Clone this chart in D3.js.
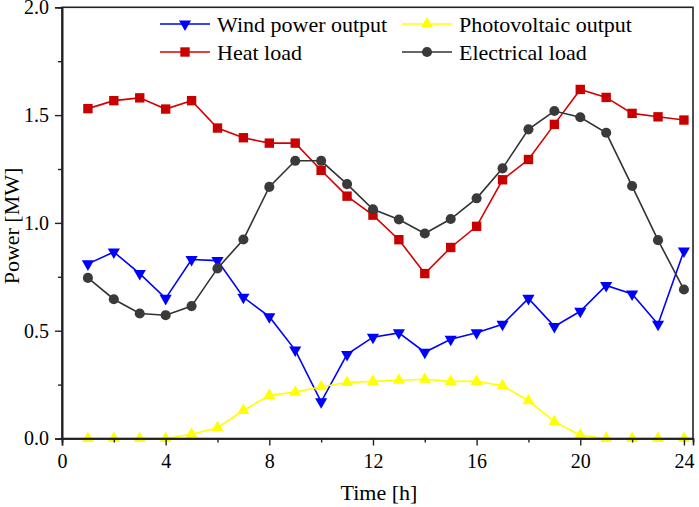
<!DOCTYPE html>
<html>
<head>
<meta charset="utf-8">
<script src="https://cdn.jsdelivr.net/npm/d3@7"></script>
<style>
  body { margin: 0; background: #fff; }
  svg text { font-family: "Liberation Serif", "Times New Roman", serif; fill: #000; }
</style>
</head>
<body>
<svg id="chart" width="699" height="507"></svg>
<script>
var hours = d3.range(1, 25);
var wind  = [0.81, 0.865, 0.765, 0.65, 0.83, 0.825, 0.655, 0.565, 0.41, 0.17, 0.39, 0.47,
             0.49, 0.40, 0.46, 0.49, 0.53, 0.65, 0.52, 0.59, 0.71, 0.67, 0.53, 0.87];
var pv    = [0, 0, 0, 0, 0.02, 0.05, 0.13, 0.20, 0.215, 0.24, 0.26, 0.265,
             0.27, 0.275, 0.265, 0.265, 0.245, 0.175, 0.078, 0.015, 0, 0, 0, 0];
var heat  = [1.53, 1.567, 1.58, 1.528, 1.567, 1.44, 1.395, 1.37, 1.37, 1.244, 1.124, 1.036,
             0.922, 0.765, 0.886, 0.984, 1.2, 1.294, 1.457, 1.619, 1.582, 1.508, 1.492, 1.477];
var elec  = [0.745, 0.646, 0.58, 0.572, 0.614, 0.789, 0.923, 1.167, 1.288, 1.288, 1.18, 1.063,
             1.016, 0.951, 1.018, 1.114, 1.253, 1.434, 1.519, 1.49, 1.418, 1.171, 0.92, 0.691];
var xTicks = [0, 4, 8, 12, 16, 20, 24];
var yTicks = [0, 0.5, 1.0, 1.5, 2.0];

var series = [
  { name: 'Wind power output',   values: wind, color: '#0000ff', fill: '#0000ff', shape: 'down' },
  { name: 'Photovoltaic output', values: pv,   color: '#ffff00', fill: '#ffff00', shape: 'up' },
  { name: 'Heat load',           values: heat, color: '#d40000', fill: '#c80000', shape: 'square' },
  { name: 'Electrical load',     values: elec, color: '#333333', fill: '#3a3a3a', shape: 'circle' }
];

var plotLeft = 62, plotTop = 7.3, plotRight = 693, plotBottom = 438.5;
var svg = d3.select('#chart');

var x = d3.scaleLinear().domain([0, 24.35]).range([plotLeft, plotRight]);
var y = d3.scaleLinear().domain([0, 2]).range([plotBottom, plotTop]);

function symbolPath(shape) {
  if (shape == 'square') return d3.symbol().type(d3.symbolSquare).size(88)();
  if (shape == 'circle') return d3.symbol().type(d3.symbolCircle).size(80)();
  return d3.symbol().type(d3.symbolTriangle).size(64)();
}
function symbolTransform(shape, px, py) {
  var t = 'translate(' + px + ',' + py + ')';
  if (shape == 'down') t += ' rotate(180)';
  return t;
}

// series lines and markers
series.forEach(function(s) {
  var line = d3.line().x(function(d, i) { return x(hours[i]); }).y(function(d) { return y(d); });
  svg.append('path').attr('d', line(s.values))
     .attr('fill', 'none').attr('stroke', s.color).attr('stroke-width', 1.6);
});
series.forEach(function(s) {
  svg.append('g').selectAll('path').data(s.values).enter().append('path')
     .attr('d', symbolPath(s.shape))
     .attr('transform', function(d, i) { return symbolTransform(s.shape, x(hours[i]), y(d)); })
     .attr('fill', s.fill);
});

// frame
svg.append('rect').attr('x', plotLeft).attr('y', plotTop)
   .attr('width', plotRight - plotLeft).attr('height', plotBottom - plotTop)
   .attr('fill', 'none').attr('stroke', '#222').attr('stroke-width', 1.6);

// axes
var xAxis = svg.append('g').attr('transform', 'translate(0,' + plotBottom + ')')
   .call(d3.axisBottom(x).tickValues(xTicks).tickSize(7).tickPadding(8).tickFormat(d3.format('d')));
var xMinor = svg.append('g').attr('transform', 'translate(0,' + plotBottom + ')')
   .call(d3.axisBottom(x).tickValues([2, 6, 10, 14, 18, 22]).tickSize(4).tickFormat(''));
var yAxis = svg.append('g').attr('transform', 'translate(' + plotLeft + ',0)')
   .call(d3.axisLeft(y).tickValues(yTicks).tickSize(7).tickPadding(6).tickFormat(d3.format('.1f')));
var yMinor = svg.append('g').attr('transform', 'translate(' + plotLeft + ',0)')
   .call(d3.axisLeft(y).tickValues([0.25, 0.75, 1.25, 1.75]).tickSize(4).tickFormat(''));

[xAxis, xMinor, yAxis, yMinor].forEach(function(a) {
  a.select('.domain').attr('stroke', '#222').attr('stroke-width', 1.6);
  a.selectAll('.tick line').attr('stroke', '#222').attr('stroke-width', 1.4);
  a.selectAll('.tick text').attr('font-size', 20).attr('font-family', '"Liberation Serif", serif').attr('fill', '#000');
});

// axis titles
svg.append('text').attr('x', 379).attr('y', 500).attr('text-anchor', 'middle')
   .attr('font-size', 22).text('Time [h]');
svg.append('text').attr('transform', 'translate(19,226) rotate(-90)').attr('text-anchor', 'middle')
   .attr('font-size', 22).text('Power [MW]');

// legend
var legendPos = [[160, 24], [402, 24], [160, 52], [402, 52]];
series.forEach(function(s, i) {
  var lx = legendPos[i][0], ly = legendPos[i][1];
  var g = svg.append('g');
  g.append('line').attr('x1', lx).attr('x2', lx + 50).attr('y1', ly).attr('y2', ly)
   .attr('stroke', s.color).attr('stroke-width', 1.6);
  g.append('path').attr('d', symbolPath(s.shape))
   .attr('transform', symbolTransform(s.shape, lx + 25, ly)).attr('fill', s.fill);
  g.append('text').attr('x', lx + 57).attr('y', ly + 8).attr('font-size', 22).text(s.name);
});
</script>
</body>
</html>
